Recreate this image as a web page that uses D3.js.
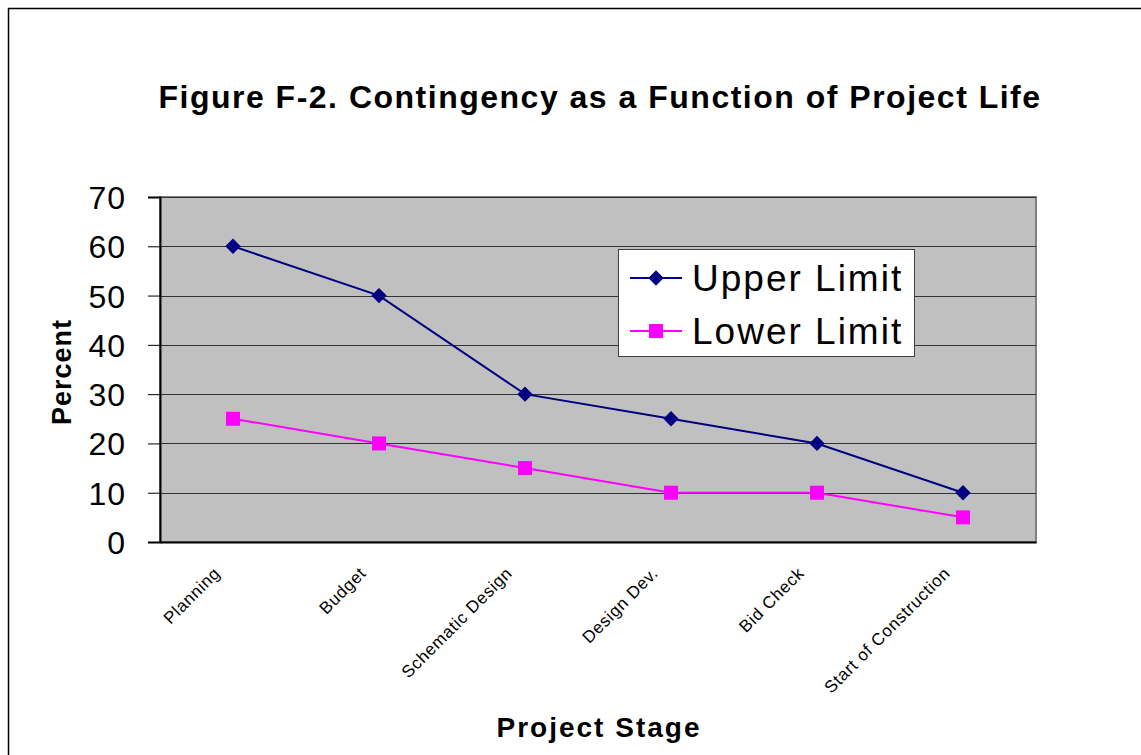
<!DOCTYPE html>
<html>
<head>
<meta charset="utf-8">
<script src="https://cdn.jsdelivr.net/npm/d3@7"></script>
<style>
  body { margin: 0; background: #fff; }
  svg { display: block; font-family: "Liberation Sans", Arial, sans-serif; }
</style>
</head>
<body>
<div id="chart"></div>
<script>
var stages = ["Planning", "Budget", "Schematic Design", "Design Dev.", "Bid Check", "Start of Construction"]
var upper = [60, 50, 30, 25, 20, 10]
var lower = [25, 20, 15, 10, 10, 5]
var yTicks = [0, 10, 20, 30, 40, 50, 60, 70]

var W = 1141, H = 755
var plot = { left: 160, top: 197, right: 1036, bottom: 542 }

var svg = d3.select("#chart").append("svg")
  .attr("width", W)
  .attr("height", H)

// outer frame
svg.append("rect")
  .attr("x", 8.5).attr("y", 8.5)
  .attr("width", W + 20).attr("height", H + 20)
  .attr("fill", "#fff")
  .attr("stroke", "#000")
  .attr("stroke-width", 1.5)

svg.append("text")
  .attr("x", 600).attr("y", 108)
  .attr("text-anchor", "middle")
  .attr("font-size", 32)
  .attr("font-weight", "bold")
  .attr("letter-spacing", 1.5)
  .text("Figure F-2. Contingency as a Function of Project Life")

var x = d3.scaleBand()
  .domain(stages)
  .range([plot.left, plot.right])

var y = d3.scaleLinear()
  .domain([0, 70])
  .range([plot.bottom, plot.top])

var cx = d => x(d) + x.bandwidth() / 2

// plot area
svg.append("rect")
  .attr("x", plot.left).attr("y", plot.top)
  .attr("width", plot.right - plot.left)
  .attr("height", plot.bottom - plot.top)
  .attr("fill", "#c0c0c0")
  .attr("stroke", "#808080")
  .attr("stroke-width", 2)

// gridlines
svg.append("g")
  .selectAll("line")
  .data(yTicks.filter(d => d > 0))
  .enter().append("line")
  .attr("x1", plot.left).attr("x2", plot.right)
  .attr("y1", d => Math.round(y(d)) + 0.5)
  .attr("y2", d => Math.round(y(d)) + 0.5)
  .attr("stroke", "#333")
  .attr("stroke-width", 1)

// y axis
var yAxis = svg.append("g")
  .attr("transform", "translate(" + plot.left + ",0)")
  .call(d3.axisLeft(y).tickValues(yTicks).tickSize(12).tickPadding(22))
yAxis.select(".domain").attr("stroke", "#000").attr("stroke-width", 2)
yAxis.selectAll(".tick line").attr("stroke", "#000")
yAxis.selectAll("text")
  .attr("font-size", 32)
  .attr("font-family", "Liberation Sans, Arial, sans-serif")
  .attr("fill", "#000")
  .attr("letter-spacing", 1)
  .attr("dy", "0.36em")

// x axis
var xAxis = svg.append("g")
  .attr("transform", "translate(0," + plot.bottom + ")")
  .call(d3.axisBottom(x).tickSize(0).tickPadding(0))
xAxis.select(".domain").attr("stroke", "#000").attr("stroke-width", 2)
xAxis.selectAll("text")
  .attr("font-size", 17)
  .attr("font-family", "Liberation Sans, Arial, sans-serif")
  .attr("letter-spacing", 0.7)
  .attr("fill", "#000")
  .attr("text-anchor", "end")
  .attr("transform", "translate(-16,28) rotate(-45)")
  .attr("dy", "0.35em")

// axis titles
svg.append("text")
  .attr("transform", "translate(71,372) rotate(-90)")
  .attr("text-anchor", "middle")
  .attr("font-size", 27)
  .attr("font-weight", "bold")
  .attr("letter-spacing", 1)
  .text("Percent")

svg.append("text")
  .attr("x", 599).attr("y", 737)
  .attr("text-anchor", "middle")
  .attr("font-size", 28)
  .attr("font-weight", "bold")
  .attr("letter-spacing", 2)
  .text("Project Stage")

var line = d3.line()
  .x((d, i) => cx(stages[i]))
  .y(d => y(d))

var diamond = d3.symbol().type(d3.symbolDiamond2).size(150)

// upper limit
svg.append("path")
  .datum(upper)
  .attr("d", line)
  .attr("fill", "none")
  .attr("stroke", "#000080")
  .attr("stroke-width", 2)

svg.selectAll("upperPts")
  .data(upper)
  .enter().append("path")
  .attr("d", diamond)
  .attr("transform", (d, i) => "translate(" + cx(stages[i]) + "," + y(d) + ")")
  .attr("fill", "#000080")

// lower limit
svg.append("path")
  .datum(lower)
  .attr("d", line)
  .attr("fill", "none")
  .attr("stroke", "#ff00ff")
  .attr("stroke-width", 2)

svg.selectAll("lowerPts")
  .data(lower)
  .enter().append("rect")
  .attr("x", (d, i) => cx(stages[i]) - 7)
  .attr("y", d => y(d) - 7)
  .attr("width", 14)
  .attr("height", 14)
  .attr("fill", "#ff00ff")

// legend
var lg = svg.append("g").attr("transform", "translate(618,249)")
lg.append("rect")
  .attr("x", 0.5).attr("y", 0.5)
  .attr("width", 296).attr("height", 107)
  .attr("fill", "#fff")
  .attr("stroke", "#404040")
  .attr("stroke-width", 1)

var series = [
  { name: "Upper Limit", color: "#000080", shape: "diamond" },
  { name: "Lower Limit", color: "#ff00ff", shape: "square" }
]
var items = lg.selectAll(".legend")
  .data(series)
  .enter().append("g")
  .attr("transform", (d, i) => "translate(0," + (29 + i * 53) + ")")

items.append("line")
  .attr("x1", 12).attr("x2", 64)
  .attr("stroke", d => d.color)
  .attr("stroke-width", 2)

items.filter(d => d.shape === "diamond").append("path")
  .attr("d", diamond)
  .attr("transform", "translate(38,0)")
  .attr("fill", d => d.color)

items.filter(d => d.shape === "square").append("rect")
  .attr("x", 31).attr("y", -7)
  .attr("width", 14).attr("height", 14)
  .attr("fill", d => d.color)

items.append("text")
  .attr("x", 74)
  .attr("dy", "0.36em")
  .attr("font-size", 37)
  .attr("letter-spacing", 2)
  .text(d => d.name)
</script>
</body>
</html>
